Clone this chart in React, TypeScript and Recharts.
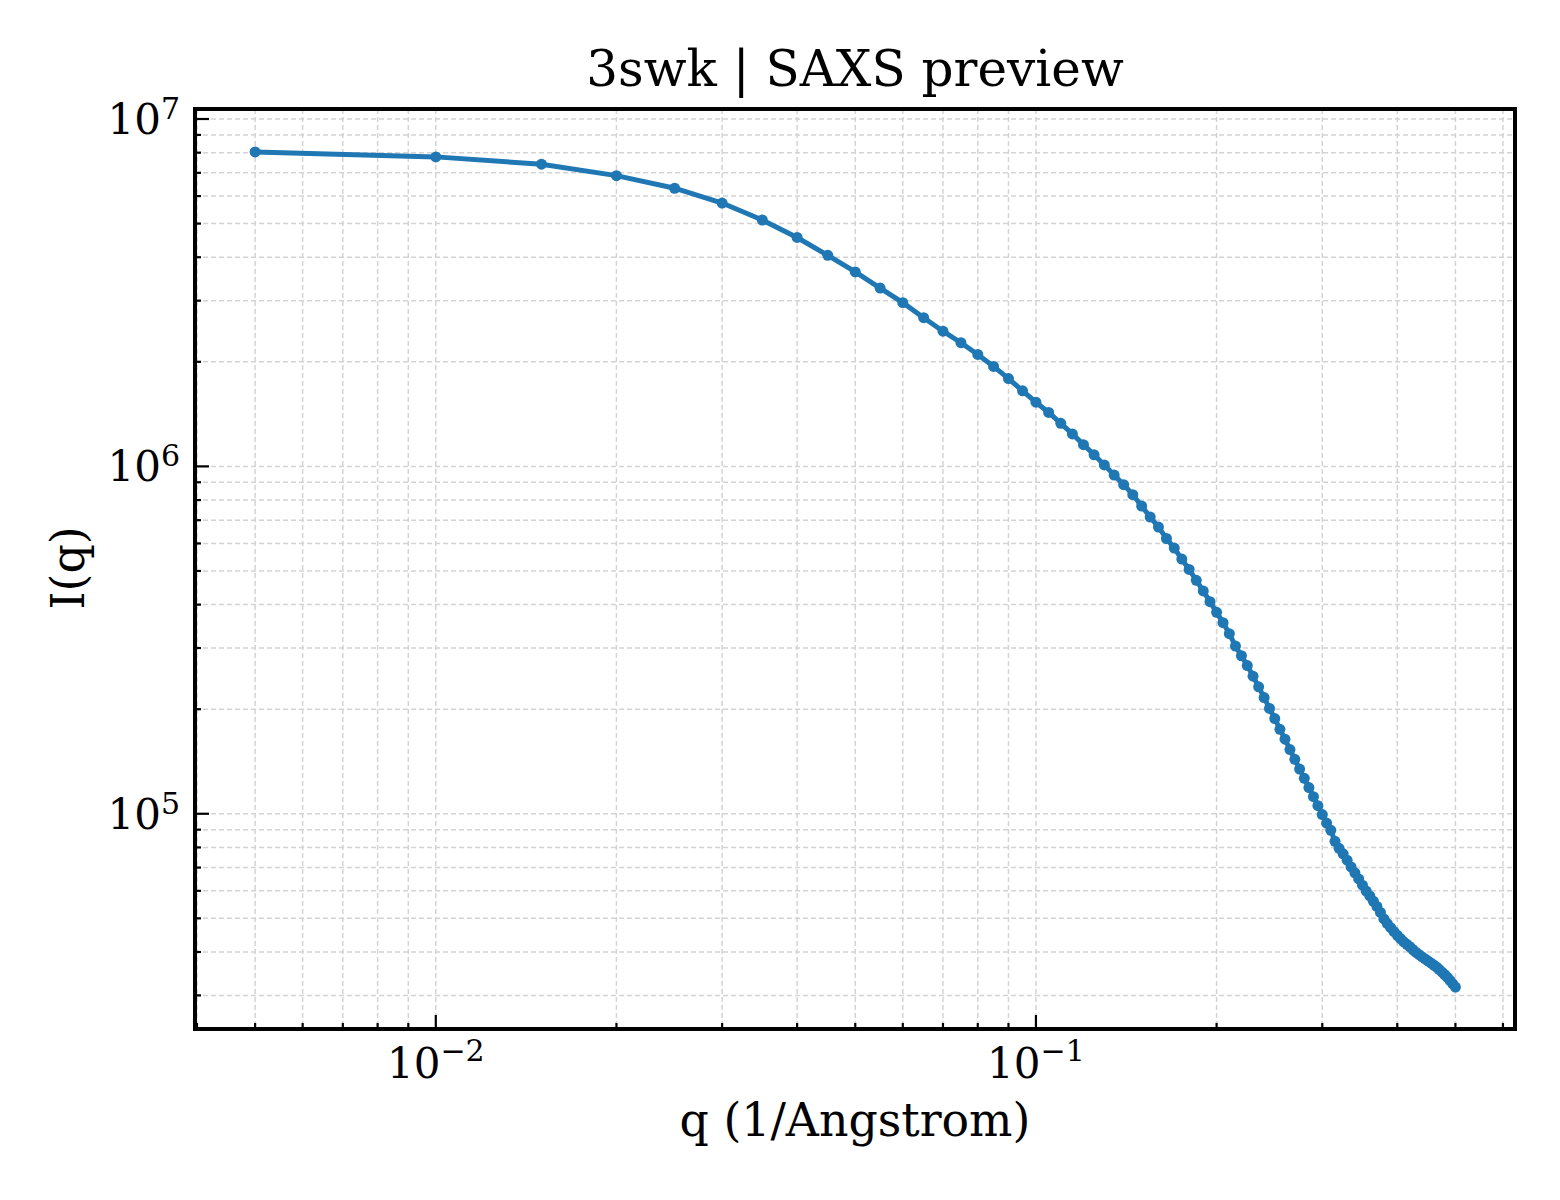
import { LineChart, Line, XAxis, YAxis, CartesianGrid, ReferenceArea } from 'recharts'

const qValues = [
  0.005, 0.01, 0.015, 0.02, 0.025, 0.03, 0.035, 0.04, 0.045, 0.05,
  0.055, 0.06, 0.065, 0.07, 0.075, 0.08, 0.085, 0.09, 0.095, 0.1,
  0.105, 0.11, 0.115, 0.12, 0.125, 0.13, 0.135, 0.14, 0.145, 0.15,
  0.155, 0.16, 0.165, 0.17, 0.175, 0.18, 0.185, 0.19, 0.195, 0.2,
  0.205, 0.21, 0.215, 0.22, 0.225, 0.23, 0.235, 0.24, 0.245, 0.25,
  0.255, 0.26, 0.265, 0.27, 0.275, 0.28, 0.285, 0.29, 0.295, 0.3,
  0.305, 0.31, 0.315, 0.32, 0.325, 0.33, 0.335, 0.34, 0.345, 0.35,
  0.355, 0.36, 0.365, 0.37, 0.375, 0.38, 0.385, 0.39, 0.395, 0.4,
  0.405, 0.41, 0.415, 0.42, 0.425, 0.43, 0.435, 0.44, 0.445, 0.45,
  0.455, 0.46, 0.465, 0.47, 0.475, 0.48, 0.485, 0.49, 0.495, 0.5,
]

const intensity = [
  8.04e6, 7.78e6, 7.41e6, 6.87e6, 6.32e6, 5.73e6, 5.12e6, 4.56e6, 4.05e6, 3.63e6,
  3.26e6, 2.96e6, 2.68e6, 2.45e6, 2.27e6, 2.1e6, 1.94e6, 1.79e6, 1.65e6, 1.53e6,
  1.43e6, 1.33e6, 1.24e6, 1.155e6, 1.08e6, 1.01e6, 9.44e5, 8.86e5, 8.29e5, 7.69e5,
  7.15e5, 6.69e5, 6.2e5, 5.82e5, 5.41e5, 5.05e5, 4.7e5, 4.38e5, 4.08e5, 3.8e5,
  3.55e5, 3.3e5, 3.04e5, 2.85e5, 2.67e5, 2.49e5, 2.32e5, 2.16e5, 2.01e5, 1.88e5,
  1.75e5, 1.64e5, 1.53e5, 1.435e5, 1.345e5, 1.265e5, 1.19e5, 1.12e5, 1.055e5, 9.95e4,
  9.4e4, 8.96e4, 8.33e4, 7.95e4, 7.67e4, 7.35e4, 7.03e4, 6.76e4, 6.49e4, 6.23e4,
  5.99e4, 5.8e4, 5.6e4, 5.41e4, 5.2e4, 4.98e4, 4.83e4, 4.7e4, 4.58e4, 4.47e4,
  4.37e4, 4.28e4, 4.21e4, 4.14e4, 4.06e4, 3.99e4, 3.93e4, 3.87e4, 3.82e4, 3.77e4,
  3.72e4, 3.67e4, 3.62e4, 3.56e4, 3.5e4, 3.44e4, 3.38e4, 3.31e4, 3.24e4, 3.17e4,
]

// major + minor ticks, the grid uses all of them
const xTicks = [
  0.004, 0.005, 0.006, 0.007, 0.008, 0.009,
  0.01, 0.02, 0.03, 0.04, 0.05, 0.06, 0.07, 0.08, 0.09,
  0.1, 0.2, 0.3, 0.4, 0.5, 0.6,
]
const yTicks = [
  3e4, 4e4, 5e4, 6e4, 7e4, 8e4, 9e4,
  1e5, 2e5, 3e5, 4e5, 5e5, 6e5, 7e5, 8e5, 9e5,
  1e6, 2e6, 3e6, 4e6, 5e6, 6e6, 7e6, 8e6, 9e6,
  1e7,
]
const xDomain = [0.00397, 0.6284]
const yDomain = [2.401e4, 1.0686e7]

const data = qValues.map((q, i) => ({ q, I: intensity[i] }))

const FONT = '"DejaVu Serif", serif'
const BLUE = '#1f77b4'

function decade(v: number): number | null {
  const e = Math.log10(v)
  return Math.abs(e - Math.round(e)) < 1e-6 ? Math.round(e) : null
}

function expText(e: number) {
  return e < 0 ? `\u2212${Math.abs(e)}` : String(e)
}

function XTick(props: any) {
  const { x, y, payload } = props
  const e = decade(payload.value)
  const major = e !== null
  return (
    <g>
      <line x1={x} x2={x} y1={y} y2={y - (major ? 14 : 6)} stroke="#000" strokeWidth={2.2} />
      {major && (
        <text x={x} y={y + 49} textAnchor="middle" fontSize={42} fontFamily={FONT} fill="#000">
          10
          <tspan dy={-17} fontSize={30}>{expText(e as number)}</tspan>
        </text>
      )}
    </g>
  )
}

function YTick(props: any) {
  const { x, y, payload } = props
  const e = decade(payload.value)
  const major = e !== null
  return (
    <g>
      <line x1={x} x2={x + (major ? 14 : 6)} y1={y} y2={y} stroke="#000" strokeWidth={2.2} />
      {major && (
        <text x={x - 15} y={y + 15} textAnchor="end" fontSize={42} fontFamily={FONT} fill="#000">
          10
          <tspan dy={-15} fontSize={30}>{expText(e as number)}</tspan>
        </text>
      )}
    </g>
  )
}

export default function App() {
  return (
    <div style={{ position: 'absolute', left: 0, top: 0, width: 1560, height: 1200, background: '#fff' }}>
      <LineChart
        width={1560}
        height={1200}
        data={data}
        margin={{ top: 109, right: 45, bottom: 91, left: 95 }}
      >
        <CartesianGrid stroke="#d4d4d4" strokeDasharray="5 3" strokeWidth={1.5} />
        <XAxis
          dataKey="q"
          type="number"
          scale="log"
          domain={xDomain}
          allowDataOverflow
          ticks={xTicks}
          interval={0}
          tick={<XTick />}
          tickSize={0}
          tickMargin={0}
          tickLine={false}
          axisLine={false}
          height={80}
        />
        <YAxis
          type="number"
          scale="log"
          domain={yDomain}
          allowDataOverflow
          ticks={yTicks}
          interval={0}
          tick={<YTick />}
          tickSize={0}
          tickMargin={0}
          tickLine={false}
          axisLine={false}
          width={100}
        />
        <ReferenceArea
          x1={xDomain[0]}
          x2={xDomain[1]}
          y1={yDomain[0]}
          y2={yDomain[1]}
          fill="none"
          fillOpacity={0}
          stroke="#000"
          strokeWidth={4}
          ifOverflow="visible"
        />
        <Line
          dataKey="I"
          type="linear"
          stroke={BLUE}
          strokeWidth={5}
          dot={{ r: 5.5, fill: BLUE, stroke: BLUE, strokeWidth: 0 }}
          activeDot={false}
          isAnimationActive={false}
        />
      </LineChart>
      <svg
        width={1560}
        height={1200}
        style={{ position: 'absolute', left: 0, top: 0, pointerEvents: 'none' }}
      >
        <text x={855} y={86} textAnchor="middle" fontSize={50} fontFamily={FONT} fill="#000">
          3swk | SAXS preview
        </text>
        <text x={855} y={1136} textAnchor="middle" fontSize={45.8} fontFamily={FONT} fill="#000">
          q (1/Angstrom)
        </text>
        <text
          x={84}
          y={568}
          transform="rotate(-90 84 568)"
          textAnchor="middle"
          fontSize={45.8}
          fontFamily={FONT}
          fill="#000"
        >
          I(q)
        </text>
      </svg>
    </div>
  )
}
